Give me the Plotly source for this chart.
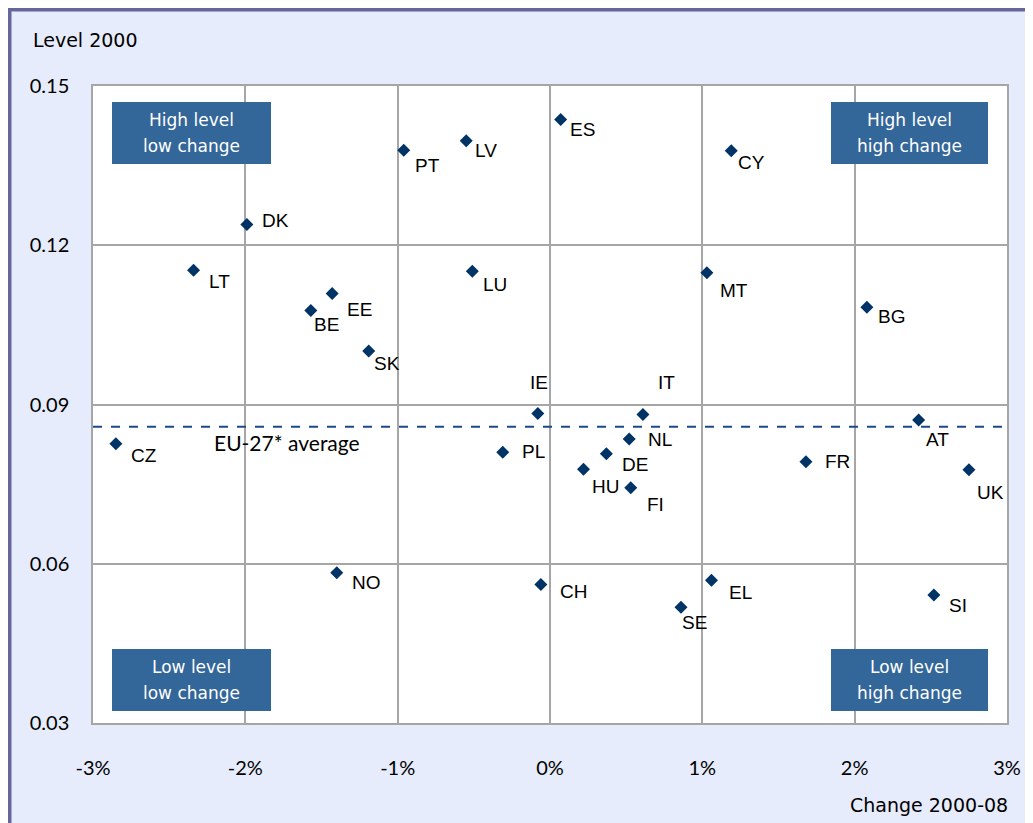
import plotly.graph_objects as go

# ---- data ----
countries = ["CZ", "LT", "DK", "BE", "EE", "SK", "PT", "LV", "ES", "LU",
             "IE", "IT", "NL", "PL", "DE", "HU", "FI", "CY", "MT", "BG",
             "AT", "FR", "UK", "NO", "CH", "SE", "EL", "SI"]
change_2000_08 = [-2.85, -2.34, -1.99, -1.57, -1.43, -1.19, -0.96, -0.55, 0.07, -0.51,
                  -0.08, 0.61, 0.52, -0.31, 0.37, 0.22, 0.53, 1.19, 1.03, 2.08,
                  2.42, 1.68, 2.75, -1.40, -0.06, 0.86, 1.06, 2.52]
level_2000 = [0.0826, 0.1153, 0.1239, 0.1077, 0.1109, 0.1001, 0.1379, 0.1397, 0.1437, 0.1151,
              0.0883, 0.0881, 0.0835, 0.0810, 0.0807, 0.0778, 0.0743, 0.1378, 0.1148, 0.1083,
              0.0871, 0.0792, 0.0777, 0.0583, 0.0561, 0.0518, 0.0569, 0.0541]
eu_average = 0.0858
x_ticks = [-3, -2, -1, 0, 1, 2, 3]
y_ticks = [0.03, 0.06, 0.09, 0.12, 0.15]
quadrant_line1 = ["High level", "High level", "Low level", "Low level"]
quadrant_line2 = ["low change", "high change", "low change", "high change"]

# ---- styling / layout (pixels) ----
OFF = 8  # page body margin
W, H = 1033 - OFF, 823 - OFF
PL_, PR_, PT_, PB_ = 93, 1007, 86, 723  # plot area on screen
L, R, T, B = PL_ - OFF, W - (PR_ - OFF), PT_ - OFF, H - (PB_ - OFF)
PW, PH = W - L - R, H - T - B

def px_x(p):  # screen px -> paper
    return (p - OFF - L) / PW

def px_y(p):
    return (H - B - (p - OFF)) / PH

# label offsets (dx, dy in px, dy positive = downward)
label_offsets = {
    "CZ": (14, 12), "LT": (14, 11), "DK": (14, -4), "BE": (2, 14), "EE": (14, 16),
    "SK": (4, 13), "PT": (10, 15), "LV": (8, 10), "ES": (8, 10), "LU": (10, 13),
    "IE": (-9, -31), "IT": (14, -32), "NL": (18, 0), "PL": (18, -1), "DE": (15, 11),
    "HU": (7, 17), "FI": (15, 17), "CY": (6, 12), "MT": (12, 18), "BG": (10, 9),
    "AT": (6, 20), "FR": (18, 0), "UK": (7, 23), "NO": (14, 10), "CH": (18, 7),
    "SE": (0, 15), "EL": (17, 12), "SI": (14, 10),
}

# quadrant box corners in screen pixels (x0, x1, y0, y1)
quadrant_boxes = [(112, 271, 102, 164), (831, 988, 102, 164),
                  (112, 271, 649, 711), (831, 988, 649, 711)]

navy = "#003366"
box_blue = "#336699"
grid = "#A6A6A6"
bg_blue = "#E6ECFB"

fig = go.Figure()
fig.add_trace(go.Scatter(
    x=change_2000_08, y=level_2000, mode="markers",
    marker=dict(symbol="diamond", size=10, color=navy),
    hoverinfo="text", text=countries, showlegend=False,
))

shapes = []
shapes.append(dict(type="rect", xref="paper", yref="paper", layer="below",
                   x0=px_x(9.5), x1=px_x(1033 + 20), y0=px_y(9.5), y1=px_y(823 + 20),
                   fillcolor=bg_blue, line=dict(color="#666699", width=4)))
shapes.append(dict(type="rect", xref="x", yref="y", layer="below",
                   x0=-3, x1=3, y0=0.03, y1=0.15,
                   fillcolor="white", line=dict(width=0)))
shapes.append(dict(type="line", xref="paper", yref="y", layer="above",
                   x0=0, x1=1, y0=eu_average, y1=eu_average,
                   line=dict(color="#1B4A8A", width=2, dash="dash")))
for (x0, x1, y0, y1) in quadrant_boxes:
    shapes.append(dict(type="rect", xref="paper", yref="paper", layer="above",
                       x0=px_x(x0), x1=px_x(x1), y0=px_y(y0), y1=px_y(y1),
                       fillcolor=box_blue, line=dict(width=0)))

annotations = []
for c, xv, yv in zip(countries, change_2000_08, level_2000):
    dx, dy = label_offsets[c]
    annotations.append(dict(x=xv, y=yv, xref="x", yref="y", text=c,
                            showarrow=False, xanchor="left", yanchor="middle",
                            xshift=dx - 1, yshift=-dy,
                            font=dict(family="Liberation Sans, Arial", size=19, color="black")))
for t1, t2, (x0, x1, y0, y1) in zip(quadrant_line1, quadrant_line2, quadrant_boxes):
    cx, cy = (x0 + x1) / 2, (y0 + y1) / 2
    for txt, yy in ((t1, cy - 13), (t2, cy + 13)):
        annotations.append(dict(x=px_x(cx), y=px_y(yy), xref="paper", yref="paper",
                                text=txt, showarrow=False, xanchor="center", yanchor="middle",
                                font=dict(family="DejaVu Sans", size=17, color="white")))
annotations.append(dict(x=-2.22, y=eu_average, xref="x", yref="y",
                        text="EU-27* average", showarrow=False,
                        xanchor="left", yanchor="middle", yshift=-16,
                        font=dict(family="Lato", size=21, color="black")))
annotations.append(dict(x=px_x(31), y=px_y(40), xref="paper", yref="paper",
                        text="Level 2000", showarrow=False, xanchor="left", yanchor="middle",
                        font=dict(family="DejaVu Sans", size=19, color="black")))
annotations.append(dict(x=px_x(1010), y=px_y(805), xref="paper", yref="paper",
                        text="Change 2000-08", showarrow=False, xanchor="right", yanchor="middle",
                        font=dict(family="DejaVu Sans", size=19, color="black")))

fig.update_layout(
    width=W, height=H,
    margin=dict(l=L, r=R, t=T, b=B, pad=0),
    paper_bgcolor="white", plot_bgcolor="rgba(0,0,0,0)",
    shapes=shapes, annotations=annotations,
    xaxis=dict(range=[-3, 3], tickvals=x_ticks, ticktext=[f"{v}%" for v in x_ticks],
               showgrid=True, gridcolor=grid, gridwidth=1.5, zeroline=False,
               showline=True, mirror=True, linecolor=grid, linewidth=1.5,
               ticks="outside", ticklen=26, tickcolor="rgba(0,0,0,0)",
               tickfont=dict(family="Lato", size=20, color="black")),
    yaxis=dict(range=[0.03, 0.15], tickvals=y_ticks, tickformat=".2f",
               showgrid=True, gridcolor=grid, gridwidth=1.5, zeroline=False,
               showline=True, mirror=True, linecolor=grid, linewidth=1.5,
               ticks="outside", ticklen=18, tickcolor="rgba(0,0,0,0)",
               tickfont=dict(family="Lato", size=20, color="black")),
)

fig.write_html("out.html")
